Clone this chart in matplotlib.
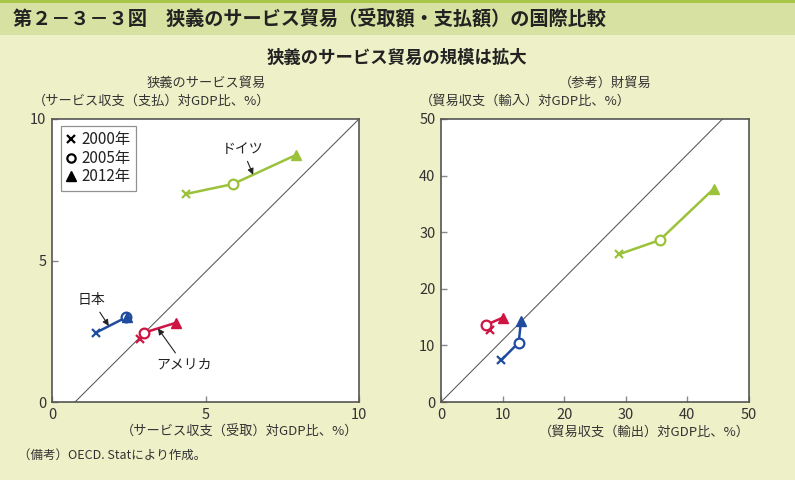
import matplotlib
matplotlib.use("Agg")
import matplotlib.pyplot as plt
from matplotlib.lines import Line2D
from matplotlib.patches import Rectangle

plt.rcParams['font.family'] = ['Noto Sans CJK JP', 'DejaVu Sans']

# ---------------- data ----------------
years = ["2000年", "2005年", "2012年"]
countries = ["ドイツ", "日本", "アメリカ"]

# services trade (% of GDP): x = receipts, y = payments
svc_de_x = [4.36, 5.89, 7.95]
svc_de_y = [7.35, 7.70, 8.73]
svc_jp_x = [1.43, 2.41, 2.44]
svc_jp_y = [2.45, 2.99, 3.02]
svc_us_x = [2.87, 3.00, 4.04]
svc_us_y = [2.22, 2.45, 2.80]

# goods trade (% of GDP): x = exports, y = imports
gds_de_x = [28.9, 35.5, 44.3]
gds_de_y = [26.1, 28.6, 37.7]
gds_jp_x = [9.8, 12.6, 13.0]
gds_jp_y = [7.4, 10.5, 14.3]
gds_us_x = [8.0, 7.3, 10.0]
gds_us_y = [12.7, 13.6, 14.9]

# reference diagonals
svc_diag_x = [0.75, 10.0]
svc_diag_y = [0.0, 10.0]
gds_diag_x = [0.0, 45.7]
gds_diag_y = [0.0, 50.0]

svc_ticks = [0, 5, 10]
gds_ticks = [0, 10, 20, 30, 40, 50]

# ---------------- style ----------------
GREEN = "#9BC23A"
BLUE = "#1F4C9E"
RED = "#CE1442"
BG = "#EEF0C8"
BAND = "#D7E1A2"
STRIPE = "#A7C546"
TXT = "#333333"

fig = plt.figure(figsize=(7.95, 4.8), dpi=100)
fig.patch.set_facecolor(BG)

# title band
fig.add_artist(Rectangle((0, 1 - 35 / 480), 1, 35 / 480, transform=fig.transFigure,
                         facecolor=BAND, edgecolor='none', zorder=0))
fig.add_artist(Rectangle((0, 1 - 3 / 480), 1, 3 / 480, transform=fig.transFigure,
                         facecolor=STRIPE, edgecolor='none', zorder=0))
fig.text(13 / 795, 1 - 19 / 480, "第２－３－３図　狭義のサービス貿易（受取額・支払額）の国際比較",
         fontsize=13.8, fontweight='bold', color="#222222", ha='left', va='center')
fig.text(397 / 795, 1 - 58 / 480, "狭義のサービス貿易の規模は拡大",
         fontsize=12.5, fontweight='bold', color="#222222", ha='center', va='center')

ax1 = fig.add_axes([52 / 795, 1 - 402 / 480, 307 / 795, 283 / 480])
ax2 = fig.add_axes([441 / 795, 1 - 402 / 480, 308 / 795, 283 / 480])


def series(ax, xs, ys, color):
    ax.plot(xs, ys, color=color, lw=1.8, zorder=3, solid_capstyle='round')
    ax.plot(xs[0], ys[0], marker='x', ms=6, mew=1.6, color=color, zorder=4, ls='none')
    ax.plot(xs[1], ys[1], marker='o', ms=7, mew=1.6, mfc='white', mec=color, zorder=4, ls='none')
    ax.plot(xs[2], ys[2], marker='^', ms=7, color=color, zorder=5, ls='none')


def style(ax, lim, ticks):
    ax.set_facecolor('white')
    ax.set_xlim(*lim)
    ax.set_ylim(*lim)
    ax.set_xticks(ticks)
    ax.set_yticks(ticks)
    ax.tick_params(direction='in', length=4, width=1, color='#888888',
                   labelsize=10.5, labelcolor=TXT, pad=4)
    for s in ax.spines.values():
        s.set_color('#555555')
        s.set_linewidth(1.2)


style(ax1, (0, 10), svc_ticks)
style(ax2, (0, 50), gds_ticks)

ax1.plot(svc_diag_x, svc_diag_y, color='#555555', lw=0.75, zorder=2)
ax2.plot(gds_diag_x, gds_diag_y, color='#555555', lw=0.75, zorder=2)

series(ax1, svc_de_x, svc_de_y, GREEN)
series(ax1, svc_us_x, svc_us_y, RED)
series(ax1, svc_jp_x, svc_jp_y, BLUE)

series(ax2, gds_de_x, gds_de_y, GREEN)
series(ax2, gds_us_x, gds_us_y, RED)
series(ax2, gds_jp_x, gds_jp_y, BLUE)

# legend
handles = [
    Line2D([], [], marker='x', ls='none', color='black', ms=5.5, mew=1.6),
    Line2D([], [], marker='o', ls='none', mfc='white', mec='black', ms=6, mew=1.6),
    Line2D([], [], marker='^', ls='none', color='black', ms=6.5),
]
leg = ax1.legend(handles, years, loc='upper left', bbox_to_anchor=(0.03, 0.975),
                 fontsize=11, frameon=True, fancybox=False, edgecolor='#777777',
                 handlelength=0.6, handletextpad=0.35, labelspacing=0.1,
                 borderpad=0.35, borderaxespad=0)
leg.get_frame().set_linewidth(0.9)
for t in leg.get_texts():
    t.set_color('#222222')

# annotations
arrow = dict(arrowstyle='-|>', color='#222222', lw=0.8, mutation_scale=9, shrinkA=2, shrinkB=0)
ax1.annotate(countries[0], xy=(6.55, 8.03), xytext=(6.2, 8.94), fontsize=10, color='#222222',
             ha='center', va='center', arrowprops=arrow)
ax1.annotate(countries[1], xy=(1.85, 2.69), xytext=(1.3, 3.6), fontsize=10, color='#222222',
             ha='center', va='center', arrowprops=arrow)
ax1.annotate(countries[2], xy=(3.45, 2.6), xytext=(4.3, 1.31), fontsize=10, color='#222222',
             ha='center', va='center', arrowprops=arrow)

# axis titles
fig.text(206 / 795, 1 - 83 / 480, "狭義のサービス貿易", fontsize=9.5, color=TXT, ha='center', va='center')
fig.text(152 / 795, 1 - 101 / 480, "（サービス収支（支払）対GDP比、%）", fontsize=9.5, color=TXT,
         ha='center', va='center')
fig.text(605 / 795, 1 - 83 / 480, "（参考）財貿易", fontsize=9.5, color=TXT, ha='center', va='center')
fig.text(525 / 795, 1 - 101 / 480, "（貿易収支（輸入）対GDP比、%）", fontsize=9.5, color=TXT,
         ha='center', va='center')
fig.text(358 / 795, 1 - 432 / 480, "（サービス収支（受取）対GDP比、%）", fontsize=9.5, color=TXT,
         ha='right', va='center')
fig.text(750 / 795, 1 - 432 / 480, "（貿易収支（輸出）対GDP比、%）", fontsize=9.5, color=TXT,
         ha='right', va='center')
fig.text(18 / 795, 1 - 455 / 480, "（備考）OECD. Statにより作成。", fontsize=9, color=TXT,
         ha='left', va='center')

fig.savefig("out.png", dpi=100, facecolor=fig.get_facecolor())
